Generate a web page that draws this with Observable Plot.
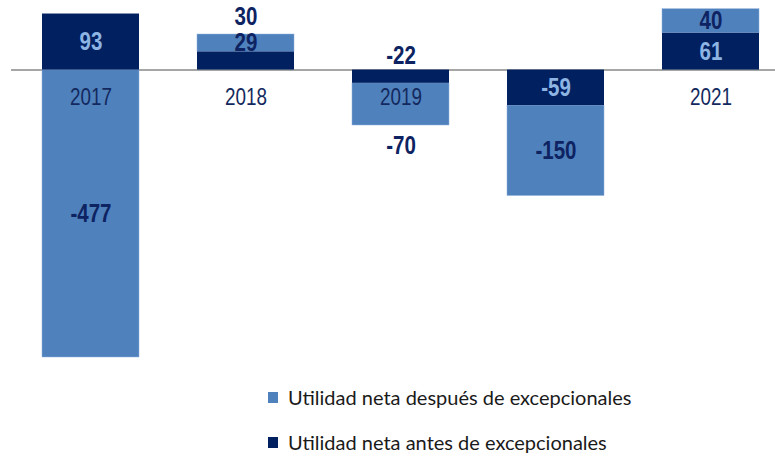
<!DOCTYPE html>
<html><head><meta charset="utf-8">
<script src="https://cdn.jsdelivr.net/npm/d3@7"></script>
<script src="https://cdn.jsdelivr.net/npm/@observablehq/plot@0.6"></script>
<style>
body{margin:0;background:#fff;}
#wrap{position:relative;width:775px;height:456px;overflow:hidden;}
#chart svg{display:block}
.legend{position:absolute;left:268px;top:386px;font-family:Lato,"Open Sans",sans-serif;font-size:20px;color:#1a1a1a;}
.row{display:flex;align-items:center;height:22px;margin-bottom:23px;white-space:nowrap}
.sw{width:10px;height:11px;margin-right:10px;flex:none}
</style></head><body>
<div id="wrap"><div id="chart"></div><div class="legend" id="legend"></div></div>
<script>
const years = ["2017", "2018", "2019", "2020", "2021"];
const antes = [93, 30, -22, -59, 61];
const despues = [-477, 29, -70, -150, 40];
const seriesKeys = ["antes", "despues"];
const seriesLabels = {antes: "Utilidad neta antes de excepcionales", despues: "Utilidad neta después de excepcionales"};
const legendOrder = ["despues", "antes"];
const colors = {antes: "#002060", despues: "#4f81bd"};

const rows = years.flatMap((y, i) => [
  {year: y, series: "antes", value: antes[i]},
  {year: y, series: "despues", value: despues[i]}
]);
const key = d => d.year + "|" + d.series;
// labels that sit outside their segment
const labelOutside = {"2018|antes": "above-stack", "2019|antes": "above-zero", "2019|despues": "below-stack"};
const posSum = yr => d3.sum(rows.filter(r => r.year === yr && r.value > 0), r => r.value);
const negSum = yr => d3.sum(rows.filter(r => r.year === yr && r.value < 0), r => r.value);
const outsideRows = rows.filter(d => labelOutside[key(d)]).map(d => {
  const kind = labelOutside[key(d)];
  return {...d, kind, pos: kind === "above-stack" ? posSum(d.year) : kind === "below-stack" ? negSum(d.year) : 0};
});

const font = "'Liberation Sans',Arial,sans-serif";
const stack = opts => Plot.stackY({x: "year", y: "value", z: "series", order: seriesKeys, ...opts});
const bold = {fontFamily: font, fontWeight: "bold", fontSize: 25, className: "narrow"};

const chart = Plot.plot({
  width: 775, height: 375,
  marginLeft: 11, marginRight: 0, marginTop: 0, marginBottom: 0,
  x: {type: "band", domain: years, range: [10.6, 789.4], paddingInner: 0.377, paddingOuter: 0.1885, axis: null},
  y: {domain: [-477, 101], range: [357, 8.7], axis: null},
  marks: [
    Plot.ruleY([0], {stroke: "#a6a6a6", strokeWidth: 2}),
    Plot.barY(rows, Plot.filter(d => d.series === "despues", stack({fill: colors.despues, stroke: "#8fb0dc", strokeWidth: 0.5}))),
    Plot.text(years.map(y => ({year: y, v: 0})), {x: "year", y: "v", text: "year", dy: 28, fill: "#13295e", fontFamily: font, fontSize: 23, className: "narrow"}),
    Plot.barY(rows, Plot.filter(d => d.series === "antes", stack({fill: colors.antes}))),
    Plot.text(rows, Plot.filter(d => d.series === "antes" && !labelOutside[key(d)], stack({text: d => String(d.value), fill: "#8db4e2", ...bold}))),
    Plot.text(rows, Plot.filter(d => d.series === "despues" && !labelOutside[key(d)], stack({text: d => String(d.value), fill: "#0e2361", ...bold}))),
    Plot.text(outsideRows.filter(d => d.kind === "above-stack"), {x: "year", y: "pos", text: d => String(d.value), dy: -18, fill: "#0e2361", ...bold}),
    Plot.text(outsideRows.filter(d => d.kind === "above-zero"), {x: "year", y: "pos", text: d => String(d.value), dy: -14, fill: "#0e2361", ...bold}),
    Plot.text(outsideRows.filter(d => d.kind === "below-stack"), {x: "year", y: "pos", text: d => String(d.value), dy: 20, fill: "#0e2361", ...bold})
  ]
});
document.getElementById("chart").appendChild(chart);

// emulate a narrow typeface by horizontally condensing the glyphs
chart.querySelectorAll("g.narrow text").forEach(t => {
  const len = t.getComputedTextLength();
  t.setAttribute("textLength", (len * 0.82).toFixed(2));
  t.setAttribute("lengthAdjust", "spacingAndGlyphs");
});

const legend = document.getElementById("legend");
for (const k of legendOrder) {
  const row = document.createElement("div");
  row.className = "row";
  const sw = document.createElement("span");
  sw.className = "sw";
  sw.style.background = colors[k];
  const t = document.createElement("span");
  t.textContent = seriesLabels[k];
  row.appendChild(sw); row.appendChild(t);
  legend.appendChild(row);
}
</script></body></html>
